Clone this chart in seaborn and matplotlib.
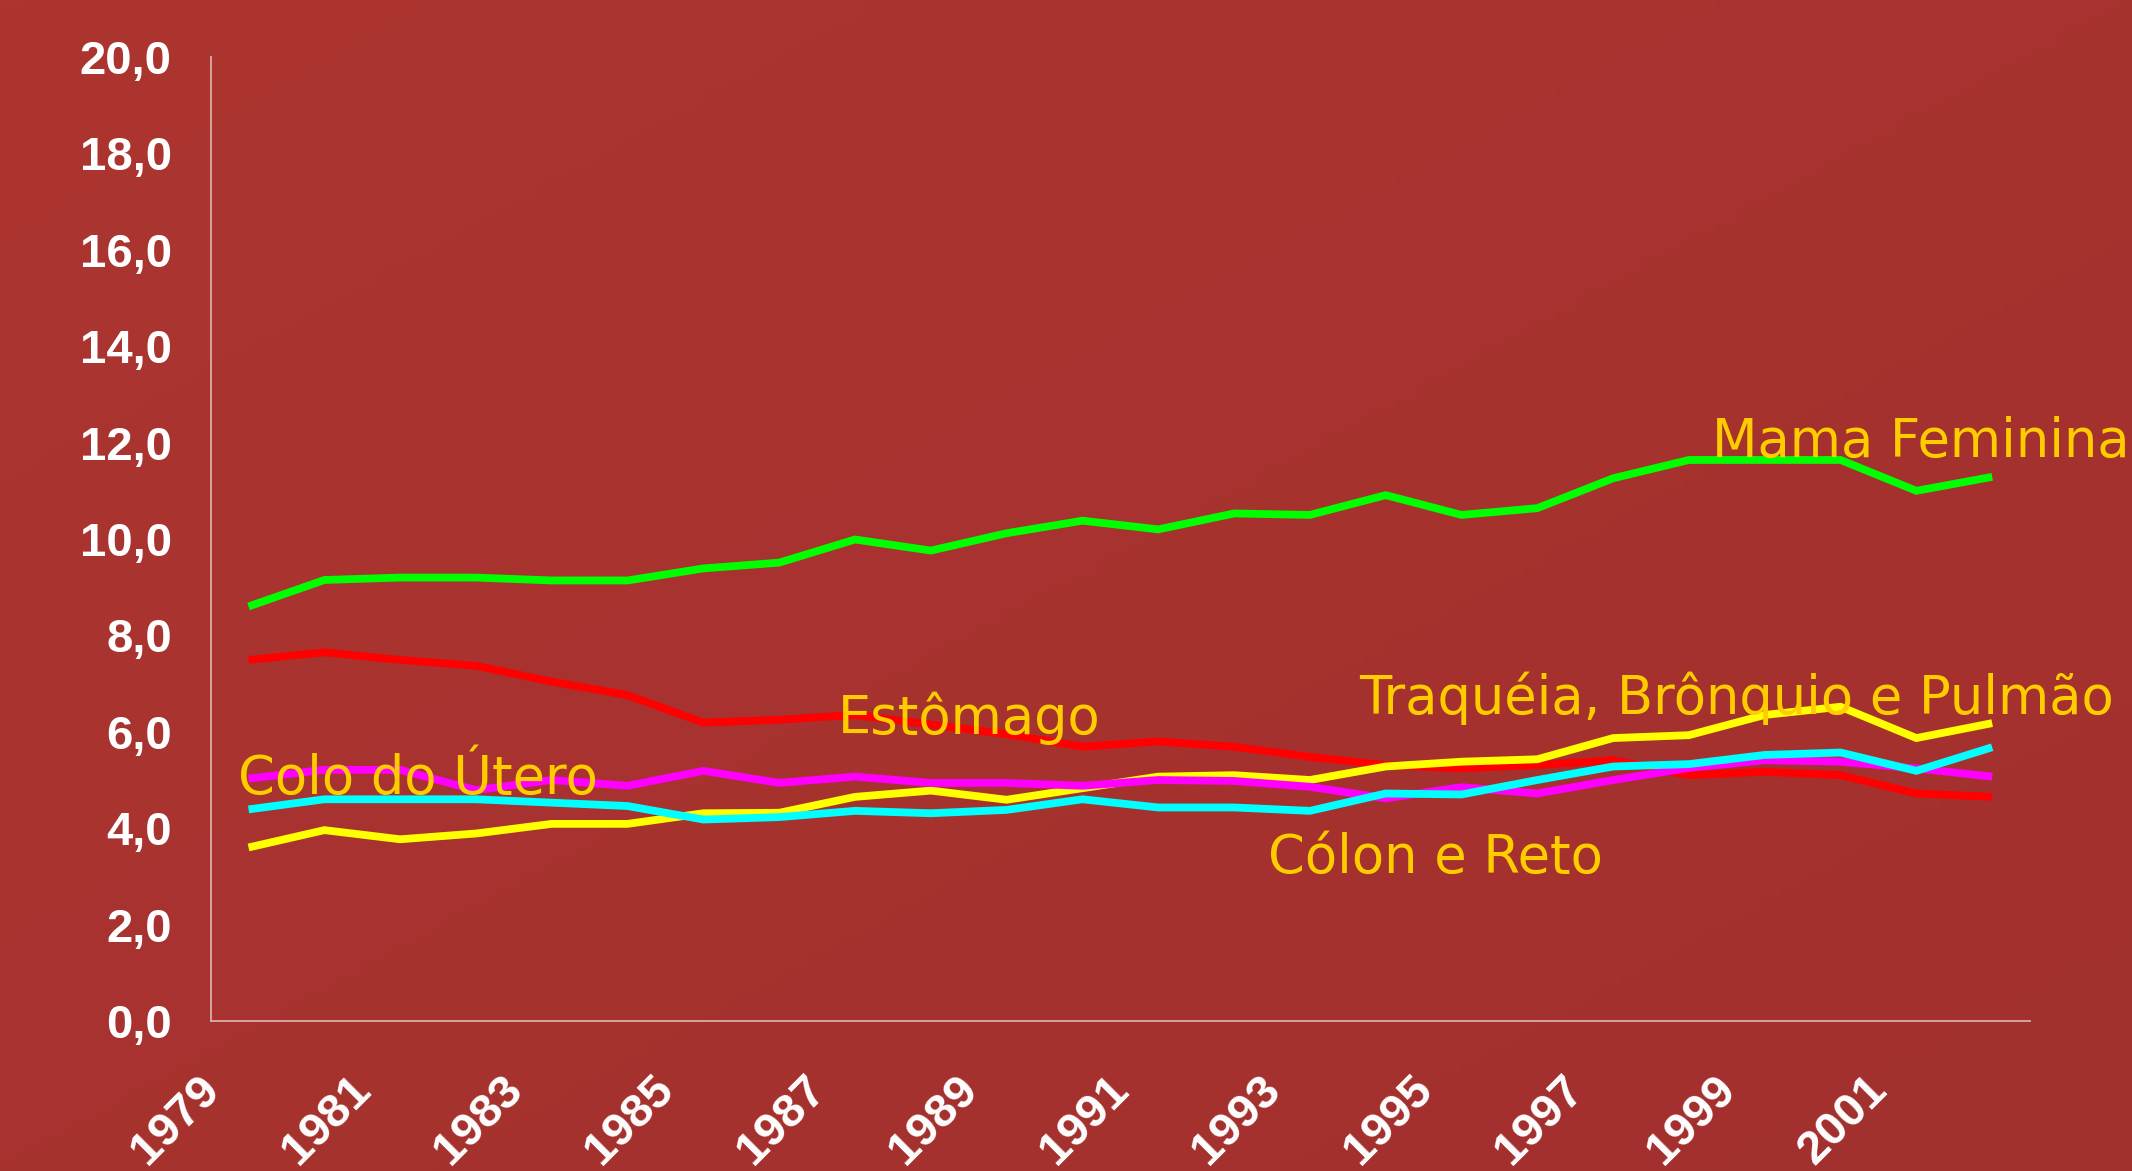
import numpy as np
import matplotlib
matplotlib.use("Agg")
import matplotlib.pyplot as plt
import matplotlib.transforms as mtransforms
import seaborn as sns
import pandas as pd

# dados (taxas por ano, leitura do gráfico original)
anos = list(range(1979, 2003))
mama_feminina = [8.6, 9.15, 9.2, 9.2, 9.14, 9.14, 9.39, 9.51, 9.99, 9.76, 10.12, 10.38,
                 10.2, 10.53, 10.5, 10.91, 10.5, 10.64, 11.26, 11.64, 11.64, 11.64, 11.0, 11.29]
estomago = [7.49, 7.65, 7.49, 7.37, 7.04, 6.76, 6.19, 6.25, 6.35, 6.15, 5.95, 5.69,
            5.8, 5.69, 5.48, 5.31, 5.24, 5.31, 5.41, 5.1, 5.17, 5.1, 4.72, 4.65]
pulmao = [3.6, 3.96, 3.77, 3.89, 4.09, 4.09, 4.31, 4.32, 4.65, 4.78, 4.59, 4.83,
          5.07, 5.1, 5.0, 5.28, 5.38, 5.43, 5.87, 5.93, 6.35, 6.52, 5.87, 6.18]
colo_utero = [5.03, 5.21, 5.21, 4.79, 5.0, 4.88, 5.19, 4.94, 5.07, 4.94, 4.94, 4.88,
              5.0, 4.98, 4.86, 4.62, 4.85, 4.72, 5.0, 5.25, 5.41, 5.38, 5.24, 5.07]
colon_reto = [4.39, 4.6, 4.6, 4.6, 4.53, 4.46, 4.18, 4.23, 4.36, 4.31, 4.38, 4.6,
              4.43, 4.43, 4.36, 4.72, 4.7, 5.0, 5.28, 5.33, 5.52, 5.57, 5.19, 5.68]

series = {
    "Mama Feminina": mama_feminina,
    "Estômago": estomago,
    "Traquéia, Brônquio e Pulmão": pulmao,
    "Colo do Útero": colo_utero,
    "Cólon e Reto": colon_reto,
}
cores = {
    "Mama Feminina": "#00FF00",
    "Estômago": "#FF0000",
    "Traquéia, Brônquio e Pulmão": "#FFFF00",
    "Colo do Útero": "#FF00FF",
    "Cólon e Reto": "#00FFFF",
}
# rótulos (texto, ano, valor da linha de base)
rotulos = [
    ("Mama Feminina", 1998.3, 11.7),
    ("Traquéia, Brônquio e Pulmão", 1993.65, 6.37),
    ("Estômago", 1986.77, 5.95),
    ("Colo do Útero", 1978.86, 4.71),
    ("Cólon e Reto", 1992.45, 3.07),
]
anos_rotulo = anos[::2][:12]

df = pd.DataFrame(
    [(a, nome, v) for nome, vals in series.items() for a, v in zip(anos, vals)],
    columns=["ano", "tipo", "taxa"],
)

bg = "#A7322F"
eixo = "#D9ADAB"
sns.set_theme(style="white", rc={
    "figure.facecolor": bg,
    "axes.facecolor": "none",
    "axes.edgecolor": eixo,
    "xtick.color": eixo,
    "ytick.color": eixo,
})
plt.rcParams["font.family"] = ["Liberation Sans", "DejaVu Sans"]

fig = plt.figure(figsize=(21.32, 11.71), dpi=100)

# fundo com leve degradê
bg_ax = fig.add_axes([0, 0, 1, 1], zorder=-5)
gx, gy = np.meshgrid(np.linspace(0, 1, 200), np.linspace(0, 1, 120))
grad = (gx + gy) / 2
cmap = matplotlib.colors.LinearSegmentedColormap.from_list("bg", ["#AC3530", "#A2302E"])
bg_ax.imshow(grad, cmap=cmap, aspect="auto", extent=[0, 1, 0, 1], origin="upper")
bg_ax.axis("off")

ax = fig.add_axes([0.0988, 0.1281, 0.8534, 0.8232])
sns.lineplot(data=df, x="ano", y="taxa", hue="tipo", hue_order=list(series.keys()),
             palette=cores, linewidth=5.6, legend=False, sort=False, ax=ax)
for ln in ax.lines:
    ln.set_solid_joinstyle("miter")
    ln.set_solid_capstyle("butt")

ax.set_xlim(anos[0] - 0.5, anos[-1] + 0.5)
ax.set_ylim(0, 20)
ax.set_xlabel("")
ax.set_ylabel("")

for s in ["top", "right"]:
    ax.spines[s].set_visible(False)
for s in ["left", "bottom"]:
    ax.spines[s].set_color(eixo)
    ax.spines[s].set_linewidth(1.3)

# eixo Y
ax.set_yticks(np.arange(0, 21, 2))
ax.set_yticklabels([f"{v:.1f}".replace(".", ",") for v in np.arange(0, 21, 2)])
ax.tick_params(axis="y", direction="out", length=10, width=1.3, pad=18,
               labelcolor="white", labelsize=34)

# eixo X: marcas entre categorias, rótulos nos anos ímpares
ax.set_xticks(np.arange(anos[0] - 0.5, anos[-1] + 1.0, 1.0))
ax.set_xticklabels([])
ax.tick_params(axis="x", which="major", direction="out", length=11, width=1.3)
ax.set_xticks(anos_rotulo, minor=True)
ax.set_xticklabels([str(a) for a in anos_rotulo], minor=True)
ax.tick_params(axis="x", which="minor", length=0, pad=45, labelcolor="white", labelsize=34)
offset = mtransforms.ScaledTranslation(-36 / 100, 0, fig.dpi_scale_trans)
for lab in ax.get_xticklabels(minor=True):
    lab.set_rotation(45)
    lab.set_ha("right")
    lab.set_va("center")
    lab.set_rotation_mode("anchor")
    lab.set_transform(lab.get_transform() + offset)

for lab in ax.get_yticklabels() + ax.get_xticklabels(minor=True):
    lab.set_fontweight("bold")

for texto, x, y in rotulos:
    ax.text(x, y, texto, color="#FFCC00", fontsize=38, family="DejaVu Sans",
            ha="left", va="baseline", zorder=5)

fig.savefig("out.png", dpi=100, facecolor=fig.get_facecolor())
